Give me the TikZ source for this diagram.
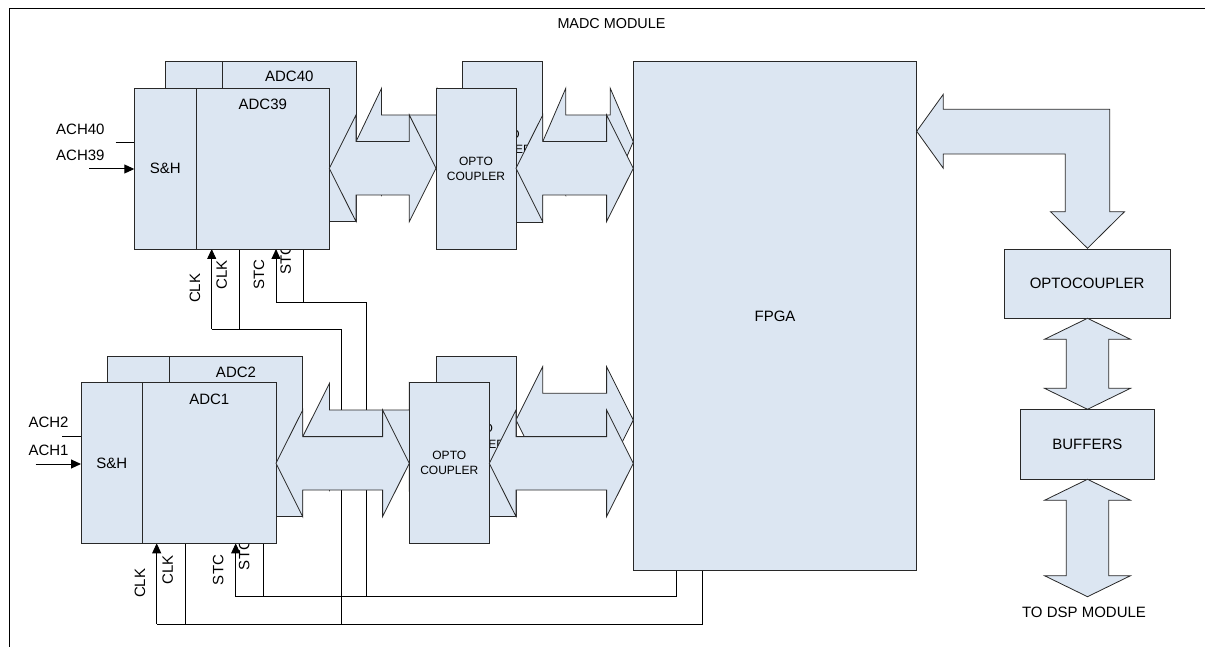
\documentclass[tikz,border=0pt]{standalone}
\usepackage{fontspec}
\setmainfont{Liberation Sans}
\usetikzlibrary{arrows.meta,backgrounds}
\definecolor{fillc}{RGB}{220,230,242}
\definecolor{edgec}{RGB}{40,40,40}
\newcommand{\optfont}{\fontsize{12}{15.5}\selectfont}
\newcommand{\mainfont}{\fontsize{15}{18}\selectfont}
% horizontal double block arrow: left tip x, right tip x, centre y, head length, shaft half width, barb half width
\newcommand{\hdarr}[6]{\filldraw[barr] (#1,#3) -- ({#1+#4},{#3-#6}) -- ({#1+#4},{#3-#5}) -- ({#2-#4},{#3-#5}) -- ({#2-#4},{#3-#6}) -- (#2,#3) -- ({#2-#4},{#3+#6}) -- ({#2-#4},{#3+#5}) -- ({#1+#4},{#3+#5}) -- ({#1+#4},{#3+#6}) -- cycle;}
% vertical double block arrow: centre x, top tip y, bottom tip y, head length, shaft half width, barb half width
\newcommand{\vdarr}[6]{\filldraw[barr] (#1,#2) -- ({#1+#6},{#2+#4}) -- ({#1+#5},{#2+#4}) -- ({#1+#5},{#3-#4}) -- ({#1+#6},{#3-#4}) -- (#1,#3) -- ({#1-#6},{#3-#4}) -- ({#1-#5},{#3-#4}) -- ({#1-#5},{#2+#4}) -- ({#1-#6},{#2+#4}) -- cycle;}
\begin{document}
\begin{tikzpicture}[x=1pt,y=-1pt,
  blk/.style={draw=edgec, fill=fillc, line width=0.8pt, inner sep=0pt, outer sep=0pt, anchor=north west, font=\mainfont},
  barr/.style={draw=edgec, fill=fillc, line width=0.8pt, line join=miter},
  txt/.style={inner sep=0pt, font=\mainfont, text=black},
  sig/.style={draw=black, line width=1pt},
  arr/.style={-{Triangle[length=10pt,width=9pt]}},
  divl/.style={draw=edgec, line width=0.8pt}]

\useasboundingbox (0,0) rectangle (1205,647);
\draw[line width=1pt] (9,647) -- (9,8.3) -- (1205,8.3);
\node[txt, font=\fontsize{14.4}{17}\selectfont] (title) at (611.5,24) {MADC MODULE};

% ---------- FPGA ----------
\node[blk, minimum width=283.4pt, minimum height=508.3pt] (fpga) at (633.3,61.7) {FPGA};

% ---------- upper channel pair ----------
\node[blk, minimum width=190.3pt, minimum height=160pt] (adc40) at (165.7,61.7) {};
\draw[divl] (222.7,61.7) -- (222.7,221.7);
\node[txt] (l40) at (289.3,76.7) {ADC40};
\hdarr{356}{462.7}{141.7}{25.5}{26.7}{53.3}
\node[blk, minimum width=80pt, minimum height=160.6pt, align=center, font=\optfont] (optTb) at (462.7,61.7) {OPTO\\COUPLER};
\hdarr{542.7}{633.3}{141.7}{23}{26.7}{53.3}
\node[blk, minimum width=195pt, minimum height=160.3pt] (adc39) at (134.3,88.7) {};
\draw[divl] (196.3,88.7) -- (196.3,249);
\node[txt] (l39) at (262.8,104) {ADC39};
\node[txt] (sh39) at (165.3,168.8) {S\&H};
\hdarr{329.3}{436}{168.3}{26.7}{26.7}{53.3}
\node[blk, minimum width=80pt, minimum height=161pt, align=center, font=\optfont] (optTf) at (436,88.3) {OPTO\\COUPLER};
\hdarr{516}{633.3}{168.3}{26.7}{26.7}{53.3}

% ---------- lower channel pair ----------
\node[blk, minimum width=195pt, minimum height=160.7pt] (adc2) at (107.7,356) {};
\draw[divl] (169.3,356) -- (169.3,516.7);
\node[txt] (l2) at (236,372.3) {ADC2};
\hdarr{302.7}{436}{436.7}{26.7}{26.7}{53.3}
\node[blk, minimum width=80pt, minimum height=160.7pt, align=center, font=\optfont] (optBb) at (436,356) {OPTO\\COUPLER};
\hdarr{516}{633.3}{420}{26.7}{26.7}{53.3}
\node[blk, minimum width=195pt, minimum height=160.6pt] (adc1) at (81,382.7) {};
\draw[divl] (142.7,382.7) -- (142.7,543.3);
\node[txt] (l1) at (209.3,399.3) {ADC1};
\node[txt] (sh1) at (111.9,463) {S\&H};
\hdarr{276}{409.3}{463.3}{26.7}{26.7}{53.3}
\node[blk, minimum width=80pt, minimum height=160.6pt, align=center, font=\optfont] (optBf) at (409.3,382.7) {OPTO\\COUPLER};
\hdarr{489.3}{633.3}{463.3}{26.7}{26.7}{53.3}

% ---------- right side ----------
\filldraw[barr] (916.7,131.3) -- (943.3,94.3) -- (943.3,109.3) -- (1109.7,109.3) -- (1109.7,211.7) -- (1124.5,211.7) -- (1087.5,248.3) -- (1050.5,211.7) -- (1065.3,211.7) -- (1065.3,154) -- (943.3,154) -- (943.3,168.3) -- cycle;
\node[blk, minimum width=165.7pt, minimum height=69pt] (optoc) at (1004.3,249.3) {OPTOCOUPLER};
\vdarr{1087.5}{318.3}{409.3}{21}{21.2}{43}
\node[blk, minimum width=133.3pt, minimum height=70pt] (buf) at (1020.7,409.3) {BUFFERS};
\vdarr{1087.5}{479.3}{596.7}{21}{21.2}{43}
\node[txt] (dsp) at (1084,612.3) {TO DSP MODULE};

% ---------- wires (behind the blocks) ----------
\begin{pgfonlayer}{background}
  % junction coordinates
  \coordinate (cT1) at (211.7,329.3);
  \coordinate (cT2) at (239,329.3);
  \coordinate (cTr) at (341,329.3);
  \coordinate (sT1) at (276,302.3);
  \coordinate (sT2) at (303,302.3);
  \coordinate (sTr) at (366.7,302.3);
  \coordinate (cB1) at (156.7,624);
  \coordinate (cB2) at (185,624);
  \coordinate (cBm) at (341,624);
  \coordinate (cBr) at (702.3,624);
  \coordinate (sB1) at (235.7,596.7);
  \coordinate (sB2) at (263.3,596.7);
  \coordinate (sBm) at (366.7,596.7);
  \coordinate (sBr) at (676,596.7);
  \coordinate (a40) at (115.7,142.3);
  \coordinate (a39) at (89,169);
  \coordinate (a2) at (62.3,436.7);
  \coordinate (a1) at (35.7,464);

  % clock distribution
  \draw[sig] (cBr |- fpga.south) -- (cBr) -- (cB1);
  \draw[sig,arr] (cB1) -- (cB1 |- adc1.south);
  \draw[sig] (cB2 |- adc1.south) -- (cB2);
  \draw[sig] (cBm) -- (cTr) -- (cT1);
  \draw[sig,arr] (cT1) -- (cT1 |- adc39.south);
  \draw[sig] (cT2 |- adc39.south) -- (cT2);
  % start-conversion distribution
  \draw[sig] (sBr |- fpga.south) -- (sBr) -- (sB1);
  \draw[sig,arr] (sB1) -- (sB1 |- adc1.south);
  \draw[sig] (sB2 |- adc1.south) -- (sB2);
  \draw[sig] (sBm) -- (sTr) -- (sT1);
  \draw[sig,arr] (sT1) -- (sT1 |- adc39.south);
  \draw[sig] (sT2 |- adc39.south) -- (sT2);
  % analog inputs
  \draw[sig] (a40) -- (a40 -| adc39.west);
  \draw[sig,arr] (a39) -- (a39 -| adc39.west);
  \draw[sig] (a2) -- (a2 -| adc1.west);
  \draw[sig,arr] (a1) -- (a1 -| adc1.west);

  % labels
  \node[txt, anchor=west] (tach40) at (56,129.5) {ACH40};
  \node[txt, anchor=west] (tach39) at (56,155.5) {ACH39};
  \node[txt, anchor=west] (tach2) at (28.3,422) {ACH2};
  \node[txt, anchor=west] (tach1) at (28.3,450.5) {ACH1};
  \node[txt, rotate=90] (tclkT1) at (195,288.3) {CLK};
  \node[txt, rotate=90] (tclkT2) at (221.7,275) {CLK};
  \node[txt, rotate=90] (tstcT1) at (259,275) {STC};
  \node[txt, rotate=90] (tstcT2) at (285.7,260) {STC};
  \node[txt, rotate=90] (tclkB1) at (140,583.3) {CLK};
  \node[txt, rotate=90] (tclkB2) at (167.7,570) {CLK};
  \node[txt, rotate=90] (tstcB1) at (218.3,570) {STC};
  \node[txt, rotate=90] (tstcB2) at (244.3,555) {STC};
\end{pgfonlayer}
\end{tikzpicture}
\end{document}
